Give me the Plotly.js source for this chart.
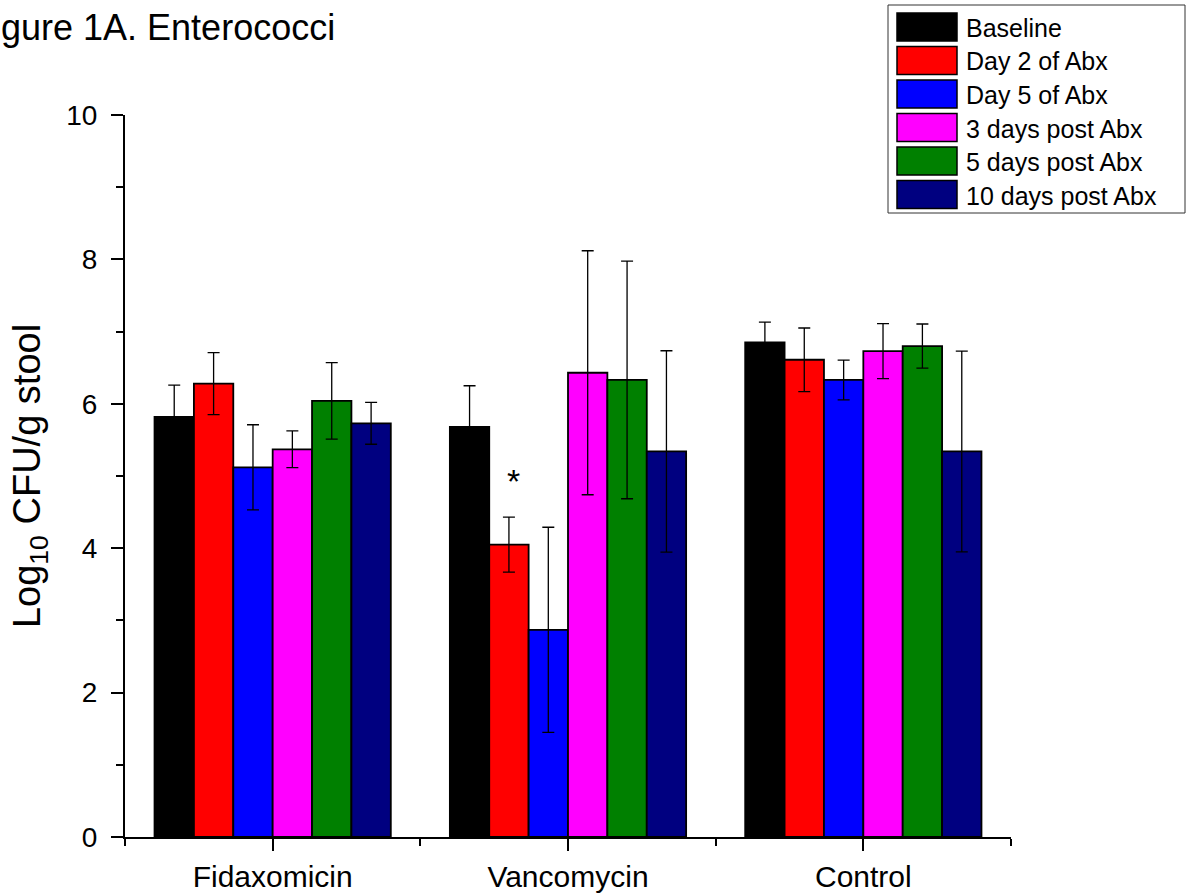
<!DOCTYPE html>
<html>
<head>
<meta charset="utf-8">
<script src="https://cdn.plot.ly/plotly-3.0.1.min.js"></script>
<style>html,body{margin:0;padding:0;background:#fff;}#chart{width:1186px;height:895px;}</style>
</head>
<body>
<div id="chart"></div>
<script>
// ---- data ----
const categories = ['Fidaxomicin', 'Vancomycin', 'Control'];
const seriesNames = ['Baseline', 'Day 2 of Abx', 'Day 5 of Abx', '3 days post Abx', '5 days post Abx', '10 days post Abx'];
const seriesColors = ['#000000', '#ff0000', '#0000ff', '#ff00ff', '#008000', '#000080'];

const baseline      = [5.82, 5.68, 6.85];
const baselineErr   = [0.44, 0.57, 0.28];
const day2Abx       = [6.28, 4.05, 6.61];
const day2AbxErr    = [0.43, 0.38, 0.44];
const day5Abx       = [5.12, 2.87, 6.33];
const day5AbxErr    = [0.59, 1.42, 0.275];
const post3Days     = [5.37, 6.43, 6.73];
const post3DaysErr  = [0.255, 1.69, 0.38];
const post5Days     = [6.04, 6.33, 6.80];
const post5DaysErr  = [0.53, 1.645, 0.305];
const post10Days    = [5.73, 5.34, 5.34];
const post10DaysErr = [0.29, 1.395, 1.39];

const seriesValues = [baseline, day2Abx, day5Abx, post3Days, post5Days, post10Days];
const seriesErrors = [baselineErr, day2AbxErr, day5AbxErr, post3DaysErr, post5DaysErr, post10DaysErr];

const yTickVals = [0, 2, 4, 6, 8, 10];
const yTickText = ['0', '2', '4', '6', '8', '10'];

const significance = [{category: 'Vancomycin', series: 'Day 2 of Abx', label: '*', y: 4.93}];

const titleText = 'Figure 1A. Enterococci';
const yTitleText = 'Log<sub>10</sub> CFU/g stool';

// ---- layout helpers ----
const FONT = 'Arial, "Liberation Sans", Helvetica, sans-serif';
const M = {l: 125, r: 175, t: 115, b: 58};
const PW = 1186 - M.l - M.r, PH = 895 - M.t - M.b;
const px = x => (x - M.l) / PW;
const py = y => (M.t + PH - y) / PH;

const catIdx = categories.map((c, i) => i);
const bargap = 0.2;
const barW = (1 - bargap) / seriesNames.length;

const traces = seriesNames.map((name, s) => ({
  type: 'bar',
  name: name,
  x: catIdx,
  y: seriesValues[s],
  marker: {color: seriesColors[s], line: {color: '#000', width: 1.8}},
  error_y: {type: 'data', array: seriesErrors[s], visible: true, color: '#000', thickness: 1.3, width: 6},
  showlegend: false,
  hoverinfo: 'x+y+name'
}));

const shapes = [];
const annotations = [];

// title (partly cut off at the left edge, as in the reference)
annotations.push({
  xref: 'paper', yref: 'paper', x: px(-31), y: py(28), xanchor: 'left', yanchor: 'middle',
  text: titleText, showarrow: false, font: {family: FONT, size: 36, color: '#000'}
});

// significance marks
significance.forEach(m => {
  const c = categories.indexOf(m.category);
  const s = seriesNames.indexOf(m.series);
  const x = c - (1 - bargap) / 2 + barW * (s + 0.5);
  annotations.push({x: x + 0.015, y: m.y, xref: 'x', yref: 'y', text: m.label, showarrow: false,
    font: {family: FONT, size: 34, color: '#000'}, xanchor: 'center', yanchor: 'middle'});
});

// legend box
const LG = {left: 888, right: 1185, top: 5, bottom: 213, swL: 897, swR: 957, textX: 964, firstC: 27, step: 33.5, swH: 28};
shapes.push({type: 'rect', xref: 'paper', yref: 'paper', x0: px(LG.left), x1: px(LG.right), y0: py(LG.bottom), y1: py(LG.top),
  line: {color: '#333', width: 1}, fillcolor: '#fff', layer: 'above'});
seriesNames.forEach((name, s) => {
  const cy = LG.firstC + s * LG.step;
  shapes.push({type: 'rect', xref: 'paper', yref: 'paper', x0: px(LG.swL), x1: px(LG.swR),
    y0: py(cy + LG.swH / 2), y1: py(cy - LG.swH / 2), line: {color: '#000', width: 1.5},
    fillcolor: seriesColors[s], layer: 'above'});
  annotations.push({xref: 'paper', yref: 'paper', x: px(LG.textX), y: py(cy + 1), xanchor: 'left', yanchor: 'middle',
    text: name, showarrow: false, font: {family: FONT, size: 25, color: '#000'}});
});

const layout = {
  width: 1186, height: 895,
  margin: M,
  paper_bgcolor: '#fff', plot_bgcolor: '#fff',
  font: {family: FONT, color: '#000'},
  barmode: 'group', bargap: bargap, bargroupgap: 0,
  xaxis: {
    range: [-0.5, 2.5], tickvals: catIdx, ticktext: categories,
    ticks: 'outside', ticklen: 12, tickwidth: 2, tickcolor: '#000',
    showline: true, linecolor: '#000', linewidth: 2, showgrid: false, zeroline: false,
    tickfont: {family: FONT, size: 30, color: '#000'}, ticklabelstandoff: 0,
    minor: {tickvals: [-0.5, 0.5, 1.5, 2.5], ticks: 'outside', ticklen: 7, tickwidth: 2, tickcolor: '#000', showgrid: false},
    fixedrange: true
  },
  yaxis: {
    range: [0, 10], tickvals: yTickVals, ticktext: yTickText,
    ticks: 'outside', ticklen: 12, tickwidth: 2, tickcolor: '#000',
    showline: true, linecolor: '#000', linewidth: 2, showgrid: false, zeroline: false,
    tickfont: {family: FONT, size: 28, color: '#000'}, ticklabelstandoff: 8,
    minor: {tickvals: [1, 3, 5, 7, 9], ticks: 'outside', ticklen: 7, tickwidth: 2, tickcolor: '#000', showgrid: false},
    title: {text: yTitleText, font: {family: FONT, size: 38, color: '#000'}, standoff: 14},
    fixedrange: true
  },
  shapes: shapes,
  annotations: annotations,
  showlegend: false
};

Plotly.newPlot('chart', traces, layout, {displayModeBar: false, staticPlot: false});
</script>
</body>
</html>
